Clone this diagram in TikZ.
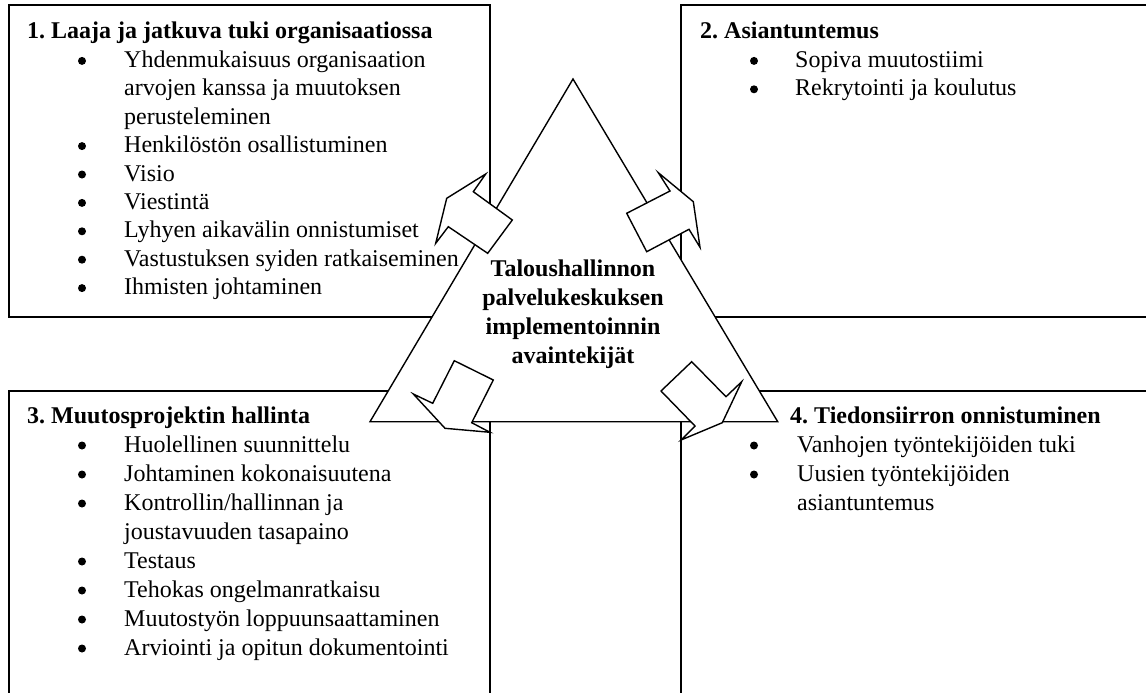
\documentclass[tikz,border=0pt]{standalone}
\usepackage{fontspec}
\setmainfont{Liberation Serif}
\begin{document}
\frenchspacing
\begin{tikzpicture}[x=1pt,y=-1pt,
  boxline/.style={line width=1.8pt},
  shapeline/.style={line width=1.4pt, fill=white, line join=miter},
  txt/.style={anchor=base west, inner sep=0pt, font=\fontsize{24}{29}\selectfont},
  ttl/.style={anchor=base west, inner sep=0pt, font=\fontsize{24}{29}\selectfont\bfseries},
  ctr/.style={anchor=base, inner sep=0pt, font=\fontsize{24}{29}\selectfont\bfseries},
  bul/.style={circle, fill=black, draw=none, inner sep=0pt, minimum size=8pt, yshift=6.5pt}]
\useasboundingbox (0,0) rectangle (1146,693);
\clip (0,0) rectangle (1146,693);
% boxes
\draw[boxline] (9,5) rectangle (490,317);
\draw[boxline] (681,5) rectangle (1160,317);
\draw[boxline] (9,391) rectangle (490,710);
\draw[boxline] (681,391) rectangle (1160,710);
% triangle
\draw[shapeline] (573,79) -- (777.7,421.7) -- (370,421.7) -- cycle;
% arrows
\draw[shapeline] (485.7,174) -- (473.3,191.7) -- (512.3,220) -- (487.7,253.3) -- (448.3,226.7) -- (435.7,243.3) -- (446.7,198.3) -- cycle;
\draw[shapeline] (658.3,172.7) -- (670,191) -- (626.7,213.3) -- (646.7,251.7) -- (689,229.3) -- (700,247.3) -- (693.3,201.7) -- cycle;
\draw[shapeline] (413.3,394) -- (432.7,403.3) -- (454.3,360.7) -- (493.3,380) -- (471.7,422.7) -- (490,432.3) -- (445,428.3) -- cycle;
\draw[shapeline] (741.7,381.7) -- (726,396.7) -- (691.7,361.7) -- (661,391) -- (695,426) -- (681,440) -- (722.3,422.7) -- cycle;
% center text
\node[ctr] (c1) at (573,276) {Taloushallinnon};
\node[ctr] (c2) at (573,305) {palvelukeskuksen};
\node[ctr] (c3) at (573,334) {implementoinnin};
\node[ctr] (c4) at (573,363) {avaintekijät};
% box 1
\node[ttl] (t1) at (27,39) {1. Laaja ja jatkuva tuki organisaatiossa};
\node[bul] (b1a) at (82,67.4) {};
\node[txt] (i1a) at (124,67.4) {Yhdenmukaisuus organisaation};
\node[txt] (i1a2) at (124,95.8) {arvojen kanssa ja muutoksen};
\node[txt] (i1a3) at (124,124.2) {perusteleminen};
\node[bul] (b1b) at (82,152.6) {};
\node[txt] (i1b) at (124,152.6) {Henkilöstön osallistuminen};
\node[bul] (b1c) at (82,181) {};
\node[txt] (i1c) at (124,181) {Visio};
\node[bul] (b1d) at (82,209.4) {};
\node[txt] (i1d) at (124,209.4) {Viestintä};
\node[bul] (b1e) at (82,237.8) {};
\node[txt] (i1e) at (124,237.8) {Lyhyen aikavälin onnistumiset};
\node[bul] (b1f) at (82,266.2) {};
\node[txt] (i1f) at (124,266.2) {Vastustuksen syiden ratkaiseminen};
\node[bul] (b1g) at (82,294.6) {};
\node[txt] (i1g) at (124,294.6) {Ihmisten johtaminen};
% box 2
\node[ttl] (t2) at (700,39) {2. Asiantuntemus};
\node[bul] (b2a) at (754,67.4) {};
\node[txt] (i2a) at (795,67.4) {Sopiva muutostiimi};
\node[bul] (b2b) at (754,95.8) {};
\node[txt] (i2b) at (795,95.8) {Rekrytointi ja koulutus};
% box 3
\node[ttl] (t3) at (27,423) {3. Muutosprojektin hallinta};
\node[bul] (b3a) at (82,452) {};
\node[txt] (i3a) at (124,452) {Huolellinen suunnittelu};
\node[bul] (b3b) at (82,481) {};
\node[txt] (i3b) at (124,481) {Johtaminen kokonaisuutena};
\node[bul] (b3c) at (82,510) {};
\node[txt] (i3c) at (124,510) {Kontrollin/hallinnan ja};
\node[txt] (i3c2) at (124,539) {joustavuuden tasapaino};
\node[bul] (b3d) at (82,568) {};
\node[txt] (i3d) at (124,568) {Testaus};
\node[bul] (b3e) at (82,597) {};
\node[txt] (i3e) at (124,597) {Tehokas ongelmanratkaisu};
\node[bul] (b3f) at (82,626) {};
\node[txt] (i3f) at (124,626) {Muutostyön loppuunsaattaminen};
\node[bul] (b3g) at (82,655) {};
\node[txt] (i3g) at (124,655) {Arviointi ja opitun dokumentointi};
% box 4
\node[ttl] (t4) at (790,423) {4. Tiedonsiirron onnistuminen};
\node[bul] (b4a) at (754,452) {};
\node[txt] (i4a) at (797,452) {Vanhojen työntekijöiden tuki};
\node[bul] (b4b) at (754,481) {};
\node[txt] (i4b) at (797,481) {Uusien työntekijöiden};
\node[txt] (i4b2) at (797,510) {asiantuntemus};
\end{tikzpicture}
\end{document}
